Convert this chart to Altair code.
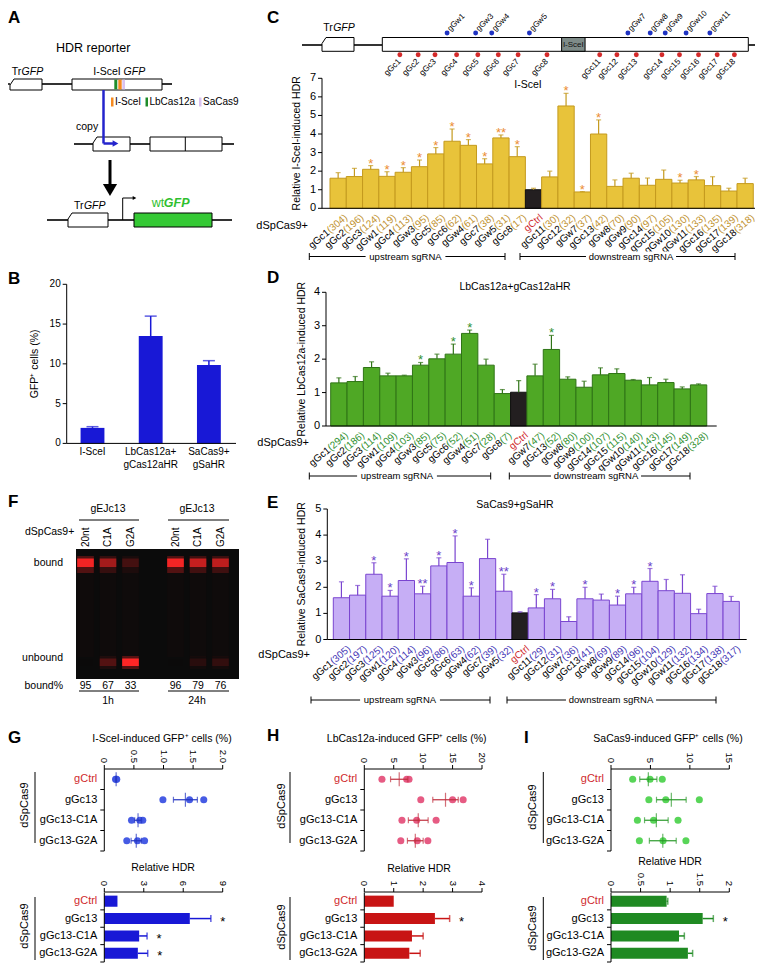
import math
import altair as alt
import pandas as pd

FONT = "Liberation Sans"
W, H = 747, 955
M = 8


def P(v):
    return v - M


# ============================ DATA ============================
# Panel B
b_labels = ["I-SceI", "LbCas12a+\ngCas12aHR", "SaCas9+\ngSaHR"]
b_vals = [1.95, 13.5, 9.85]
b_errs = [2.1, 16.0, 10.4]

# Panel C (I-SceI)
c_names = ["gGc1", "gGc2", "gGc3", "gGw1", "gGc4", "gGw3", "gGc5", "gGc6", "gGw4", "gGc7",
           "gGw5", "gGc8", "gCtrl", "gGc11", "gGc12", "gGw7", "gGc13", "gGw8", "gGw9", "gGc14",
           "gGc15", "gGw10", "gGw11", "gGc16", "gGc17", "gGc18"]
c_nums = ["(304)", "(196)", "(124)", "(119)", "(113)", "(95)", "(85)", "(62)", "(61)", "(38)",
          "(31)", "(17)", "", "(30)", "(32)", "(37)", "(42)", "(70)", "(90)", "(97)",
          "(105)", "(130)", "(133)", "(135)", "(139)", "(318)"]
c_vals = [1.62, 1.71, 2.10, 1.72, 1.94, 2.24, 2.93, 3.61, 3.39, 2.39, 3.79, 2.78, 1.00,
          1.69, 5.51, 0.88, 4.00, 1.18, 1.62, 1.24, 1.56, 1.36, 1.53, 1.22, 0.93, 1.33]
c_errs = [1.92, 2.15, 2.30, 1.97, 2.19, 2.60, 3.27, 4.27, 3.70, 2.67, 3.95, 3.32, 1.08,
          2.00, 6.19, 0.90, 4.76, 1.53, 1.89, 1.63, 2.06, 1.51, 1.71, 1.70, 1.08, 1.62]
c_stars = ["", "", "*", "*", "*", "*", "*", "*", "*", "*", "**", "*", "",
           "", "*", "*", "*", "", "", "", "", "*", "*", "", "", ""]

# Panel D (LbCas12a)
d_names = ["gGc1", "gGc2", "gGc3", "gGw1", "gGc4", "gGw3", "gGc5", "gGc6", "gGw4", "gGc7",
           "gGc8", "gCtrl", "gGw7", "gGc13", "gGw8", "gGw9", "gGc14", "gGc15", "gGw10", "gGw11",
           "gGc16", "gGc17", "gGc18"]
d_nums = ["(294)", "(186)", "(114)", "(109)", "(103)", "(85)", "(75)", "(52)", "(51)", "(28)",
          "(7)", "", "(47)", "(52)", "(80)", "(100)", "(107)", "(115)", "(140)", "(143)",
          "(145)", "(149)", "(328)"]
d_vals = [1.29, 1.33, 1.75, 1.50, 1.50, 1.82, 2.01, 2.15, 2.77, 1.82, 0.97, 1.01,
          1.50, 2.29, 1.40, 1.16, 1.53, 1.57, 1.37, 1.23, 1.30, 1.11, 1.23]
d_errs = [1.44, 1.48, 1.92, 1.58, 1.52, 1.90, 2.15, 2.45, 2.87, 2.00, 1.09, 1.36,
          1.85, 2.71, 1.47, 1.34, 1.74, 1.71, 1.39, 1.45, 1.40, 1.17, 1.26]
d_stars = ["", "", "", "", "", "*", "", "*", "*", "", "", "",
           "", "*", "", "", "", "", "", "", "", "", ""]

# Panel E (SaCas9)
e_names = ["gGc1", "gGc2", "gGc3", "gGw1", "gGc4", "gGw3", "gGc5", "gGc6", "gGw4", "gGc7",
           "gGw5", "gCtrl", "gGc11", "gGc12", "gGw7", "gGc13", "gGw8", "gGw9", "gGc14", "gGc15",
           "gGw10", "gGw11", "gGc16", "gGc17", "gGc18"]
e_nums = ["(305)", "(197)", "(125)", "(120)", "(114)", "(96)", "(86)", "(63)", "(62)", "(39)",
          "(32)", "", "(29)", "(31)", "(36)", "(41)", "(69)", "(89)", "(96)", "(104)",
          "(129)", "(132)", "(134)", "(138)", "(317)"]
e_vals = [1.60, 1.70, 2.50, 1.66, 2.26, 1.75, 2.82, 2.95, 1.66, 3.10, 1.85, 1.02,
          1.21, 1.56, 0.69, 1.56, 1.51, 1.32, 1.75, 2.23, 1.87, 1.77, 0.99, 1.76, 1.46]
e_errs = [2.21, 2.07, 2.94, 1.88, 3.09, 2.04, 3.13, 3.97, 1.98, 3.84, 2.50, 1.06,
          1.72, 1.92, 0.87, 2.00, 1.74, 1.66, 2.00, 2.72, 2.30, 2.48, 1.16, 2.04, 1.65]
e_stars = ["", "", "*", "*", "*", "**", "*", "*", "*", "", "**", "",
           "*", "*", "", "*", "", "*", "*", "*", "", "", "", "", ""]

# Panel C schematic: guide sites (% along the GFP cassette)
sch_gc_names = ["gGc1", "gGc2", "gGc3", "gGc4", "gGc5", "gGc6", "gGc7", "gGc8",
                "gGc11", "gGc12", "gGc13", "gGc14", "gGc15", "gGc16", "gGc17", "gGc18"]
sch_gc_pos = [4.8, 9.8, 14.4, 20.3, 26.1, 31.7, 37.1, 45.0,
              59.4, 64.1, 69.4, 76.4, 81.2, 86.4, 91.5, 96.2]
sch_gw_names = ["gGw1", "gGw3", "gGw4", "gGw5", "gGw7", "gGw8", "gGw9", "gGw10", "gGw11"]
sch_gw_pos = [17.7, 25.5, 29.9, 40.2, 67.1, 73.2, 77.3, 83.0, 89.5]
sch_scei = [49.0, 55.4]

# Panel F gel
f_lanes = ["20nt", "C1A", "G2A", "20nt", "C1A", "G2A"]
f_time = ["1h", "1h", "1h", "24h", "24h", "24h"]
f_bound = [95, 67, 33, 96, 79, 76]

# Panels G/H/I
gcats = ["gCtrl", "gGc13", "gGc13-C1A", "gGc13-G2A"]
g_pts = [[0.19, 0.20, 0.21], [0.99, 1.44, 1.68], [0.46, 0.60, 0.65], [0.38, 0.56, 0.68]]
h_pts = [[3.0, 7.2, 7.6], [9.6, 15.0, 16.8], [6.4, 8.9, 12.2], [6.2, 9.0, 10.8]]
i_pts = [[2.75, 4.95, 6.5], [4.8, 6.95, 11.2], [3.35, 5.4, 8.5], [3.6, 6.6, 9.5]]
g_rel = [1.0, 6.5, 2.65, 2.55]
g_rel_err = [1.0, 8.1, 3.25, 3.3]
g_rel_star = ["", "*", "*", "*"]
h_rel = [1.0, 2.4, 1.62, 1.53]
h_rel_err = [1.0, 2.9, 2.0, 1.9]
h_rel_star = ["", "*", "", ""]
i_rel = [0.94, 1.55, 1.15, 1.30]
i_rel_err = [0.96, 1.73, 1.24, 1.38]
i_rel_star = ["", "*", "", ""]

# tick labels
g_top_ticks, g_top_labs = [0, 0.5, 1, 1.5, 2], ["0", "0.5", "1.0", "1.5", "2.0"]
g_bot_ticks, g_bot_labs = [0, 3, 6, 9], ["0", "3", "6", "9"]
h_top_ticks, h_top_labs = [0, 5, 10, 15, 20], ["0", "5", "10", "15", "20"]
h_bot_ticks, h_bot_labs = [0, 1, 2, 3, 4], ["0", "1", "2", "3", "4"]
i_top_ticks, i_top_labs = [0, 5, 10, 15], ["0", "5", "10", "15"]
i_bot_ticks, i_bot_labs = [0, 0.5, 1, 1.5, 2], ["0", "0.5", "1", "1.5", "2"]
b_ticks = [0, 5, 10, 15, 20]

# ============================ STYLE ============================
RED = "#cf2a2e"
ARROW = "#2424cc"
WTG = "#2fbf2f"
BLUE_BAR = "#1818d6"
SH = 8          # vertical shift of the top schematic (page margin)
REL_TOP, REL_BOT = 892.5, 962   # band range of the bottom "Relative HDR" bars

PXS = alt.Scale(domain=[0, 763], range=[P(0), P(763)], nice=False, zero=False)
PYS = alt.Scale(domain=[0, 977], range=[P(0), P(977)], nice=False, zero=False)


def pxy():
    return dict(x=alt.X("x:Q", scale=PXS, axis=None), y=alt.Y("y:Q", scale=PYS, axis=None))


def seg(rows, color="black", w=1.0):
    df = pd.DataFrame(rows, columns=["x", "y", "x2", "y2"])
    return alt.Chart(df).mark_rule(color=color, strokeWidth=w).encode(**pxy(), x2="x2:Q", y2="y2:Q")


def box(rows, fill="white", stroke="black", w=1.0, opacity=1.0):
    df = pd.DataFrame(rows, columns=["x", "y", "x2", "y2"])
    kw = dict(fill=fill, opacity=opacity)
    if stroke:
        kw.update(stroke=stroke, strokeWidth=w)
    return alt.Chart(df).mark_rect(**kw).encode(**pxy(), x2="x2:Q", y2="y2:Q")


def txt(rows, size=10, color="black", weight="normal", style="normal", align="center",
        baseline="middle", angle=0, dx=0, dy=0):
    df = pd.DataFrame(rows, columns=["x", "y", "t"])
    return alt.Chart(df).mark_text(font=FONT, fontSize=size, color=color, fontWeight=weight,
                                   fontStyle=style, align=align, baseline=baseline, angle=angle,
                                   dx=dx, dy=dy).encode(**pxy(), text="t:N")


def poly(rows, color="black", w=1.0):
    df = pd.DataFrame(rows, columns=["id", "o", "x", "y"])
    return alt.Chart(df).mark_line(color=color, strokeWidth=w).encode(
        **pxy(), detail="id:N", order="o:Q")


def tri(rows, shape, color, size):
    df = pd.DataFrame(rows, columns=["x", "y"])
    return alt.Chart(df).mark_point(shape=shape, filled=True, color=color, size=size,
                                    opacity=1).encode(**pxy())


def trgfp(idn, x0, x1, y0, y1):
    pts = [(x0 + 4, y0), (x1, y0), (x1, y1), (x0, y1), (x0, y0 + 6), (x0 + 4, y0)]
    return [(idn, k, x, y) for k, (x, y) in enumerate(pts)]


def bracket(x1, x2, y, label, cx, size=9.5):
    w = len(label) * size * 0.54 + 8
    return [seg([(x1, y, x2, y), (x1, y - 3.5, x1, y + 3.5), (x2, y - 3.5, x2, y + 3.5)]),
            box([(cx - w / 2, y - 5, cx + w / 2, y + 5)], fill="white", stroke=None),
            txt([(cx, y, label)], size=size)]


def left_qaxis(ys, ticks, x_px, title=None, tdist=25, fs=11, tfs=10.5):
    """Left quantitative axis drawn with the panel's own y scale."""
    tdf = pd.DataFrame({"t": ticks, "lab": [f"{t:g}" for t in ticks]})
    Yt = alt.Y("t:Q", scale=ys, axis=None)
    xv = P(x_px)
    out = [
        alt.Chart(tdf).mark_rule(color="black", strokeWidth=1).encode(
            x=alt.value(xv - 4), x2=alt.value(xv), y=Yt),
        alt.Chart(tdf).mark_text(font=FONT, fontSize=fs, align="right", baseline="middle").encode(
            x=alt.value(xv - 6), y=Yt, text="lab:N"),
        alt.Chart(pd.DataFrame({"a": [ticks[0]], "b": [ticks[-1]]})).mark_rule(
            color="black", strokeWidth=1).encode(
            x=alt.value(xv), y=alt.Y("a:Q", scale=ys, axis=None), y2="b:Q"),
    ]
    if title:
        out.append(alt.Chart(pd.DataFrame({"m": [(ticks[0] + ticks[-1]) / 2], "t": [title]})).mark_text(
            font=FONT, fontSize=tfs, angle=270, baseline="middle").encode(
            x=alt.value(xv - tdist), y=alt.Y("m:Q", scale=ys, axis=None), text="t:N"))
    return out


def top_qaxis(xs, ticks, labs, y_px):
    """Top quantitative axis (rotated labels) drawn with the panel's own x scale."""
    tdf = pd.DataFrame({"t": ticks, "lab": labs})
    Xt = alt.X("t:Q", scale=xs, axis=None)
    yv = P(y_px)
    return [
        alt.Chart(tdf).mark_rule(color="black", strokeWidth=1).encode(
            x=Xt, y=alt.value(yv - 4), y2=alt.value(yv)),
        alt.Chart(tdf).mark_text(font=FONT, fontSize=9.5, angle=90, align="right",
                                 baseline="middle").encode(x=Xt, y=alt.value(yv - 6), text="lab:N"),
        alt.Chart(pd.DataFrame({"a": [ticks[0]], "b": [ticks[-1]]})).mark_rule(
            color="black", strokeWidth=1).encode(
            x=alt.X("a:Q", scale=xs, axis=None), x2="b:Q", y=alt.value(yv)),
    ]


def cat_axis(top, bot, x_px):
    """Left category axis: labels at band centres, ticks at band boundaries."""
    cs = alt.Scale(domain=[0, len(gcats)], range=[P(top), P(bot)], nice=False, zero=False)
    df = pd.DataFrame({"cat": gcats, "col": [RED if c == "gCtrl" else "black" for c in gcats]})
    df["k"] = list(range(len(gcats)))
    base = alt.Chart(df).transform_calculate(mid="datum.k + 0.5", end="datum.k + 1")
    xv = P(x_px)
    return alt.layer(
        base.mark_text(font=FONT, fontSize=11, align="right", baseline="middle").encode(
            x=alt.value(xv - 7), y=alt.Y("mid:Q", scale=cs, axis=None), text="cat:N",
            color=alt.Color("col:N", scale=None)),
        base.mark_rule(color="black", strokeWidth=1).encode(
            x=alt.value(xv - 4), x2=alt.value(xv), y=alt.Y("end:Q", scale=cs, axis=None)),
        alt.Chart(pd.DataFrame({"a": [0], "b": [len(gcats)]})).mark_rule(
            color="black", strokeWidth=1).encode(
            x=alt.value(xv), y=alt.Y("a:Q", scale=cs, axis=None), y2="b:Q"),
    )


layers = []

# ---------------- panel letters ----------------
layers.append(txt([(8, 18, "A"), (8, 279, "B"), (8, 502, "F"), (8, 738, "G"),
                   (267, 18, "C"), (267, 278, "D"), (267, 503, "E"), (267, 736, "H"),
                   (524, 738, "I")], size=17, weight="bold", align="left"))

# ---------------- panel A (diagram) ----------------
layers += [
    txt([(56, 48, "HDR reporter")], size=12.5, align="left"),
    seg([(2, 84, 10, 84), (42, 84, 72, 84), (162, 84, 172, 84),
         (74, 144, 93, 144), (130, 144, 150, 144), (222, 144, 234, 144),
         (47, 220, 68, 220), (108, 220, 134, 220), (212, 220, 232, 220)], w=1.6),
    poly(trgfp("t1", 10, 42, 79, 90) + trgfp("t2", 93, 130, 137, 151) + trgfp("t3", 68, 108, 213, 227)),
    box([(72, 79, 162, 90), (150, 137, 222, 151)]),
    seg([(185.3, 137, 185.3, 151)]),
    box([(114.3, 79.6, 117.3, 89.4)], fill="#1e8c2a", stroke=None),
    box([(118.3, 79.6, 121.7, 89.4)], fill="#f5891f", stroke=None),
    box([(122.3, 79.6, 125, 89.4)], fill="#d9c2f0", stroke=None),
    txt([(11.7, 72, "Tr"), (74, 206, "Tr")], size=10.5, align="left"),
    txt([(21.6, 72, "GFP"), (83.9, 206, "GFP")], size=10.5, style="italic", align="left"),
    txt([(93.3, 72, "I-SceI")], size=10.5, align="left"),
    txt([(123.6, 72, "GFP")], size=10.5, style="italic", align="left"),
    box([(111, 97.5, 113.5, 106.5)], fill="#f5891f", stroke=None),
    box([(145.5, 97.5, 148, 106.5)], fill="#1e8c2a", stroke=None),
    box([(199, 97.5, 201.5, 106.5)], fill="#d9c2f0", stroke=None),
    txt([(115, 102, "I-SceI"), (149.5, 102, "LbCas12a"), (203, 102, "SaCas9")], size=10, align="left"),
    txt([(76, 127, "copy")], size=10.5, align="left"),
    seg([(103.5, 90, 103.5, 143.5), (103.5, 143.5, 113, 143.5)], color=ARROW, w=2.5),
    tri([(115.5, 143.5)], "triangle-right", ARROW, 45),
    seg([(110, 160, 110, 186)], w=3),
    tri([(110, 190)], "triangle-down", "black", 200),
    box([(134, 213, 212, 227)], fill="#35c935"),
    seg([(122.7, 220, 122.7, 198), (122.7, 198, 133, 198)], w=1),
    tri([(134.5, 198)], "triangle-right", "black", 18),
    txt([(151.7, 203, "wt")], size=12.5, color=WTG, align="left"),
    txt([(163.8, 203, "GFP")], size=12.5, color=WTG, weight="bold", style="italic", align="left"),
]

# ---------------- panel B ----------------
b_df = pd.DataFrame({"g": b_labels, "v": b_vals, "e": b_errs})
bxs = alt.Scale(domain=b_labels, range=[P(63.4), P(238)], paddingInner=0.59, paddingOuter=0.295)
bys = alt.Scale(domain=[0, 20], range=[P(443.4), P(284.3)], nice=False, zero=False)
BX = alt.X("g:N", scale=bxs, sort=None, axis=None)
b_parts = [
    alt.Chart(b_df).mark_bar(color=BLUE_BAR).encode(x=BX, y=alt.Y("v:Q", scale=bys, axis=None)),
    alt.Chart(b_df).mark_rule(color=BLUE_BAR, strokeWidth=1.5).encode(
        x=BX, y=alt.Y("v:Q", scale=bys, axis=None), y2="e:Q"),
    alt.Chart(b_df).mark_tick(orient="horizontal", size=12, thickness=1.5, color=BLUE_BAR).encode(
        x=BX, y=alt.Y("e:Q", scale=bys, axis=None)),
    alt.Chart(pd.DataFrame({"z": [0]})).mark_rule(color="black", strokeWidth=1).encode(
        x=alt.value(P(66.7)), x2=alt.value(P(236)), y=alt.Y("z:Q", scale=bys, axis=None)),
    alt.Chart(b_df).mark_text(font=FONT, fontSize=10, baseline="top", lineBreak="\n",
                              lineHeight=12.5).encode(x=BX, y=alt.value(P(447)), text="g:N"),
]
b_parts += left_qaxis(bys, b_ticks, 66.7, title="GFP⁺ cells (%)", tdist=32, fs=10, tfs=10.5)
layers.append(alt.layer(*b_parts))

# ---------------- panel F (gel) ----------------
layers.append(box([(76, 549, 239, 679)], fill="#0b0b0b", stroke=None))
f_df = pd.DataFrame({"lane": f_lanes, "time": f_time, "bound": f_bound})
f_df["slot"] = [i + (1 if t == "24h" else 0) for i, t in enumerate(f_time)]
gx = alt.Scale(domain=[0, 6], range=[P(85.5), P(220.5)], nice=False, zero=False)
fb = alt.Chart(f_df).transform_calculate(
    l="datum.slot - 0.37", r="datum.slot + 0.37",
    ob="pow(datum.bound / 100, 1.5)", og="0.3 * pow(datum.bound / 100, 1.5)",
    ou="min(1, pow((100 - datum.bound) / 67, 2))",
    oug="0.3 * min(1, pow((100 - datum.bound) / 67, 2))", os="0.02")
GX = lambda f: alt.X(f, scale=gx, axis=None)


def gel_rect(y1, y2, ofield, color="#ff2626"):
    return fb.mark_rect(fill=color).encode(
        x=GX("l:Q"), x2="r:Q", y=alt.value(P(y1)), y2=alt.value(P(y2)),
        opacity=alt.Opacity(ofield + ":Q", scale=None))


layers.append(alt.layer(
    gel_rect(566, 657, "os", "#ff3030"),
    gel_rect(556, 573, "og"), gel_rect(558.5, 567, "ob"),
    gel_rect(656, 669, "oug"), gel_rect(658.5, 666, "ou"),
    fb.mark_text(font=FONT, fontSize=10, angle=270, align="left", baseline="middle").encode(
        x=GX("slot:Q"), y=alt.value(P(547)), text="lane:N"),
    fb.mark_text(font=FONT, fontSize=10.5).encode(
        x=GX("slot:Q"), y=alt.value(P(686)), text="bound:Q"),
))
layers += [
    txt([(108, 509, "gEJc13"), (197, 509, "gEJc13")], size=10.5),
    seg([(79, 520, 139, 520), (168, 520, 229, 520), (79, 691, 139, 691), (168, 691, 229, 691)]),
    txt([(25, 532, "dSpCas9+")], size=10.5, align="left"),
    txt([(63, 563, "bound"), (63, 658, "unbound"), (63, 686, "bound%")], size=10.5, align="right"),
    txt([(108, 701, "1h"), (197, 701, "24h")], size=10.5),
]

# ---------------- panel C schematic ----------------
sx = alt.Scale(domain=[0, 100], range=[P(382.3), P(748.3)], nice=False, zero=False)
gc_df = pd.DataFrame({"n": sch_gc_names, "pos": sch_gc_pos})
gw_df = pd.DataFrame({"n": sch_gw_names, "pos": sch_gw_pos})
sce_df = pd.DataFrame({"a": [sch_scei[0]], "b": [sch_scei[1]], "t": ["I-SceI"]})
layers += [
    seg([(302, 37 + SH, 322, 37 + SH), (354, 37 + SH, 382.3, 37 + SH), (748.3, 37 + SH, 762, 37 + SH)], w=1.6),
    poly(trgfp("c1", 322, 354, 29.5 + SH, 43.3 + SH)),
    box([(382.3, 29.5 + SH, 748.3, 43.3 + SH)]),
    txt([(323.3, 20 + SH, "Tr")], size=10.5, align="left"),
    txt([(333.2, 20 + SH, "GFP")], size=10.5, style="italic", align="left"),
]
layers.append(alt.layer(
    alt.Chart(sce_df).mark_rect(fill="#7e8b88", stroke="black", strokeWidth=1).encode(
        x=alt.X("a:Q", scale=sx, axis=None), x2="b:Q",
        y=alt.value(P(29.5 + SH)), y2=alt.value(P(43.3 + SH))),
    alt.Chart(sce_df).transform_calculate(m="(datum.a + datum.b) / 2").mark_text(
        font=FONT, fontSize=8, color="#111111").encode(
        x=alt.X("m:Q", scale=sx, axis=None), y=alt.value(P(36.5 + SH)), text="t:N"),
    alt.Chart(gc_df).mark_circle(size=24, color="#d42a2a", opacity=1).encode(
        x=alt.X("pos:Q", scale=sx, axis=None), y=alt.value(P(46.7 + SH))),
    alt.Chart(gw_df).mark_circle(size=24, color="#1f33c2", opacity=1).encode(
        x=alt.X("pos:Q", scale=sx, axis=None), y=alt.value(P(25 + SH))),
    alt.Chart(gc_df).mark_text(font=FONT, fontSize=8.3, angle=315, align="right", baseline="middle",
                               dx=-4.2, dy=4.2).encode(
        x=alt.X("pos:Q", scale=sx, axis=None), y=alt.value(P(46.7 + SH)), text="n:N"),
    alt.Chart(gw_df).mark_text(font=FONT, fontSize=8, angle=315, align="left", baseline="middle",
                               dx=3.5, dy=-0.7).encode(
        x=alt.X("pos:Q", scale=sx, axis=None), y=alt.value(P(25 + SH)), text="n:N"),
))


# ---------------- panels C / D / E ----------------
def hdr_panel(names, nums, vals, errs, stars, g):
    df = pd.DataFrame({"name": names, "num": nums, "val": vals, "err": errs, "star": stars})
    df["i"] = list(range(len(names)))
    df["nd"] = [len(s) for s in nums]
    bw = g["bw"]
    d0 = (g["ax0"] - g["bx0"]) / bw
    d1 = (g["ax1"] - g["bx0"]) / bw
    xs = alt.Scale(domain=[d0, d1], range=[P(g["ax0"]), P(g["ax1"])], nice=False, zero=False)
    ys = alt.Scale(domain=[0, g["ymax"]], range=[P(g["y0"]), P(g["ytop"])], nice=False, zero=False)
    base = alt.Chart(df).transform_calculate(i2="datum.i + 1", c="datum.i + 0.5", z="0")
    ctrl = "datum.name == 'gCtrl'"
    XC = alt.X("c:Q", scale=xs, axis=None)
    out = [
        base.mark_rect(strokeWidth=1).encode(
            x=alt.X("i:Q", scale=xs, axis=None), x2="i2:Q",
            y=alt.Y("val:Q", scale=ys, axis=None), y2="z:Q",
            fill=alt.condition(ctrl, alt.value("#231f20"), alt.value(g["fill"])),
            stroke=alt.condition(ctrl, alt.value("#111111"), alt.value(g["stroke"]))),
        base.mark_rule(color=g["stroke"], strokeWidth=1.2).encode(
            x=XC, y=alt.Y("val:Q", scale=ys, axis=None), y2="err:Q"),
        base.mark_tick(orient="horizontal", size=5, thickness=1.2, color=g["stroke"]).encode(
            x=XC, y=alt.Y("err:Q", scale=ys, axis=None)),
        base.transform_filter("datum.star != ''").mark_text(
            font=FONT, fontSize=13, color=g["star"], baseline="alphabetic", dy=2).encode(
            x=XC, y=alt.Y("err:Q", scale=ys, axis=None), text="star:N"),
        alt.Chart(pd.DataFrame({"a": [d0], "b": [d1], "z": [0]})).mark_rule(
            color="black", strokeWidth=1).encode(
            x=alt.X("a:Q", scale=xs, axis=None), x2="b:Q", y=alt.Y("z:Q", scale=ys, axis=None)),
    ]
    out += left_qaxis(ys, list(range(g["ymax"] + 1)), g["ax0"], title=g["ytitle"], tdist=g["tx"])
    fs = 10
    a = math.radians(-40)
    sx_, sy_ = 8, 8
    dx0 = sx_ * math.cos(a) + sy_ * math.sin(a)
    dy0 = -sx_ * math.sin(a) + sy_ * math.cos(a)
    YZ = alt.Y("z:Q", scale=ys, axis=None)
    out.append(base.transform_filter("datum.nd > 0").mark_text(
        font=FONT, fontSize=fs, angle=320, align="right", baseline="middle", color=g["num"],
        dx=dx0, dy=dy0).encode(x=XC, y=YZ, text="num:N"))
    for k in sorted(set(df["nd"])):
        if k == 0:
            continue
        wnum = fs * (0.666 + 0.556 * (k - 2))
        out.append(base.transform_filter(f"datum.nd == {k} && datum.name != 'gCtrl'").mark_text(
            font=FONT, fontSize=fs, angle=320, align="right", baseline="middle", color="black",
            dx=dx0 - wnum, dy=dy0).encode(x=XC, y=YZ, text="name:N"))
    out.append(base.transform_filter(ctrl).mark_text(
        font=FONT, fontSize=fs, angle=320, align="right", baseline="middle", color=RED,
        dx=dx0, dy=dy0).encode(x=XC, y=YZ, text="name:N"))
    return alt.layer(*out)


layers.append(hdr_panel(c_names, c_nums, c_vals, c_errs, c_stars, dict(
    bx0=330, bw=16.28, ax0=322, ax1=762, y0=208.3, ytop=78.3, ymax=7,
    ytitle="Relative I-SceI-induced HDR", tx=25,
    fill="#e8c33a", stroke="#c49a1e", num="#c0912e", star="#eb8c32")))
layers.append(hdr_panel(d_names, d_nums, d_vals, d_errs, d_stars, dict(
    bx0=330.7, bw=16.35, ax0=326, ax1=716.7, y0=426, ytop=292.3, ymax=4,
    ytitle="Relative LbCas12a-induced HDR", tx=24.3,
    fill="#4fa825", stroke="#2f7416", num="#2f8f2f", star="#2f8f2f")))
layers.append(hdr_panel(e_names, e_nums, e_vals, e_errs, e_stars, dict(
    bx0=333.3, bw=16.24, ax0=327.3, ax1=746.7, y0=639.5, ytop=509, ymax=5,
    ytitle="Relative SaCas9-induced HDR", tx=25.6,
    fill="#c6aef5", stroke="#7a45d0", num="#3f34b5", star="#6a3fc9")))

layers += [
    txt([(528, 85, "I-SceI")], size=10.5),
    txt([(515, 287, "LbCas12a+gCas12aHR")], size=10.5),
    txt([(515, 505, "SaCas9+gSaHR")], size=10.5),
    txt([(308, 226, "dSpCas9+"), (309, 443, "dSpCas9+"), (310, 655, "dSpCas9+")], size=11, align="right"),
]
layers += bracket(309.3, 505, 256.5, "upstream sgRNA", 405.5)
layers += bracket(520, 735, 256.5, "downstream sgRNA", 631)
layers += bracket(309.3, 490.7, 476, "upstream sgRNA", 397)
layers += bracket(509.3, 690, 476, "downstream sgRNA", 596)
layers += bracket(311, 490, 700, "upstream sgRNA", 400)
layers += bracket(507, 716, 700, "downstream sgRNA", 611)


# ---------------- panels G / H / I ----------------
def dot_panel(pts, g):
    rows = [(c, v) for c, vs in zip(gcats, pts) for v in vs]
    df = pd.DataFrame(rows, columns=["cat", "v"])
    xs = alt.Scale(domain=[0, g["top_ticks"][-1]], range=[P(g["x0"]), P(g["x1"])], nice=False, zero=False)
    ys = alt.Scale(type="band", domain=gcats, range=[P(769), P(851)], paddingInner=0, paddingOuter=0)
    Yc = alt.Y("cat:N", scale=ys, axis=None, sort=None)
    dots = alt.Chart(df).mark_circle(size=50, color=g["dot"], opacity=0.95).encode(
        x=alt.X("v:Q", scale=xs, axis=None), y=Yc)
    agg = alt.Chart(df).transform_aggregate(
        m="mean(v)", se="stderr(v)", groupby=["cat"]).transform_calculate(
        lo="datum.m - datum.se", hi="datum.m + datum.se")
    whisk = agg.mark_rule(color=g["err"], strokeWidth=1.2).encode(
        x=alt.X("lo:Q", scale=xs, axis=None), x2="hi:Q", y=Yc)
    caps = agg.transform_fold(["lo", "hi"], as_=["k", "cv"]).mark_tick(
        orient="vertical", size=6, thickness=1.2, color=g["err"]).encode(
        x=alt.X("cv:Q", scale=xs, axis=None), y=Yc)
    mean = agg.mark_tick(orient="vertical", size=14, thickness=1.2, color=g["err"]).encode(
        x=alt.X("m:Q", scale=xs, axis=None), y=Yc)
    return alt.layer(dots, whisk, caps, mean, *top_qaxis(xs, g["top_ticks"], g["top_labs"], 769))


def rel_panel(vals, errs, stars, g):
    df = pd.DataFrame({"cat": gcats, "v": vals, "e": errs, "s": stars})
    xs = alt.Scale(domain=[0, g["bot_ticks"][-1]], range=[P(g["x0"]), P(g["x1"])], nice=False, zero=False)
    ys = alt.Scale(type="band", domain=gcats, range=[P(REL_TOP), P(REL_BOT)],
                   paddingInner=0.36, paddingOuter=0.18)
    Yc = alt.Y("cat:N", scale=ys, axis=None, sort=None)
    base = alt.Chart(df)
    bars = base.mark_bar(color=g["bar"]).encode(x=alt.X("v:Q", scale=xs, axis=None), y=Yc)
    e = base.transform_filter("datum.e > datum.v")
    rule = e.mark_rule(color=g["bar"], strokeWidth=1.5).encode(
        x=alt.X("v:Q", scale=xs, axis=None), x2="e:Q", y=Yc)
    cap = e.mark_tick(orient="vertical", size=7, thickness=1.5, color=g["bar"]).encode(
        x=alt.X("e:Q", scale=xs, axis=None), y=Yc)
    star = base.transform_filter("datum.s != ''").mark_text(
        font=FONT, fontSize=13, dx=12, dy=3).encode(
        x=alt.X("e:Q", scale=xs, axis=None), y=Yc, text="s:N")
    return alt.layer(bars, rule, cap, star, *top_qaxis(xs, g["bot_ticks"], g["bot_labs"], 892))


G = dict(x0=104.3, x1=222.7, top_ticks=g_top_ticks, top_labs=g_top_labs,
         bot_ticks=g_bot_ticks, bot_labs=g_bot_labs,
         dot="#3c52e3", err="#2434c0", bar=BLUE_BAR)
Hh = dict(x0=364.3, x1=482, top_ticks=h_top_ticks, top_labs=h_top_labs,
          bot_ticks=h_bot_ticks, bot_labs=h_bot_labs,
          dot="#e5527c", err="#c0303f", bar="#c81414")
Ii = dict(x0=611, x1=729.3, top_ticks=i_top_ticks, top_labs=i_top_labs,
          bot_ticks=i_bot_ticks, bot_labs=i_bot_labs,
          dot="#4fd34f", err="#2b9a2b", bar="#1f8a22")

for pts, rel, rel_e, rel_s, g in [(g_pts, g_rel, g_rel_err, g_rel_star, G),
                                  (h_pts, h_rel, h_rel_err, h_rel_star, Hh),
                                  (i_pts, i_rel, i_rel_err, i_rel_star, Ii)]:
    layers.append(dot_panel(pts, g))
    layers.append(rel_panel(rel, rel_e, rel_s, g))
    layers.append(cat_axis(769, 851, g["x0"]))
    layers.append(cat_axis(REL_TOP, REL_BOT, g["x0"]))

layers += [
    txt([(162, 739, "I-SceI-induced GFP⁺ cells (%)"), (406.7, 739, "LbCas12a-induced GFP⁺ cells (%)"),
         (668, 739, "SaCas9-induced GFP⁺ cells (%)")], size=10.5),
    txt([(163, 868.3, "Relative HDR"), (419, 869.3, "Relative HDR"), (670, 862, "Relative HDR")], size=10.5),
    seg([(35, 772, 35, 843), (35, 897, 35, 960),
         (290, 772, 290, 843), (290, 897, 290, 960),
         (543.3, 772, 543.3, 843), (543.3, 897, 543.3, 960)]),
    txt([(25, 805, "dSpCas9"), (25, 926, "dSpCas9"), (281.7, 806, "dSpCas9"),
         (281.7, 927, "dSpCas9"), (533.3, 807, "dSpCas9"), (533.3, 928, "dSpCas9")],
        size=11, angle=270),
]

chart = alt.layer(*layers).resolve_scale(
    x="independent", y="independent"
).properties(
    width=W, height=H, padding=0, background="white",
    autosize=alt.AutoSizeParams(type="none"),
).configure_view(stroke=None)

chart.save("out.html", embed_options={"renderer": "svg", "actions": False})
